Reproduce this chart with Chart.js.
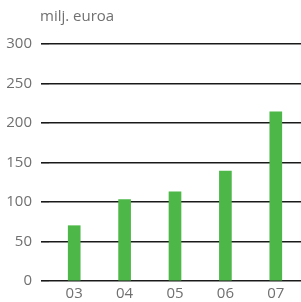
<!DOCTYPE html>
<html>
<head>
<meta charset="utf-8">
<script src="https://cdn.jsdelivr.net/npm/chart.js@4/dist/chart.umd.min.js"></script>
<style>
  html, body { margin: 0; padding: 0; background: #fff; }
  #wrap { width: 301px; height: 302px; }
</style>
</head>
<body>
<div id="wrap"><canvas id="data-chart"></canvas></div>
<script>
const years = ['03', '04', '05', '06', '07'];
const values = [70, 103, 113, 139, 214];
const yTicks = [0, 50, 100, 150, 200, 250, 300];
const unitLabel = 'milj. euroa';

// unit text above the axis
const unitPlugin = {
    id: 'unit',
    afterDraw(chart) {
        const ctx = chart.ctx;
        ctx.save();
        ctx.font = '15px "Open Sans", sans-serif';
        ctx.fillStyle = '#707070';
        ctx.textBaseline = 'middle';
        ctx.fillText(unitLabel, chart.chartArea.left - 9, 17);
        ctx.restore();
    }
};

const ctx = document.getElementById('data-chart').getContext('2d');
new Chart(ctx, {
    type: 'bar',
    data: {
        labels: years,
        datasets: [{
            data: values,
            backgroundColor: '#4db848',
            barThickness: 12
        }]
    },
    options: {
        responsive: true,
        maintainAspectRatio: false,
        animation: false,
        layout: { padding: { top: 44, right: 0, left: 0, bottom: 0 } },
        plugins: { legend: { display: false }, tooltip: { enabled: false } },
        scales: {
            x: {
                afterFit(scale) { scale.height = 21; },
                grid: { display: false },
                border: { display: false },
                ticks: { color: '#707070', font: { family: '"Open Sans", sans-serif', size: 15 }, padding: -4 }
            },
            y: {
                min: 0,
                max: 300,
                z: 1,
                afterFit(scale) { scale.width = 49; },
                afterBuildTicks(scale) { scale.ticks = yTicks.map(v => ({ value: v })); },
                grid: { color: '#1a1a1a', lineWidth: 1.6, tickLength: 8 },
                border: { display: false },
                ticks: { color: '#707070', font: { family: '"Open Sans", sans-serif', size: 15 }, padding: 9 }
            }
        }
    },
    plugins: [unitPlugin]
});
</script>
</body>
</html>
